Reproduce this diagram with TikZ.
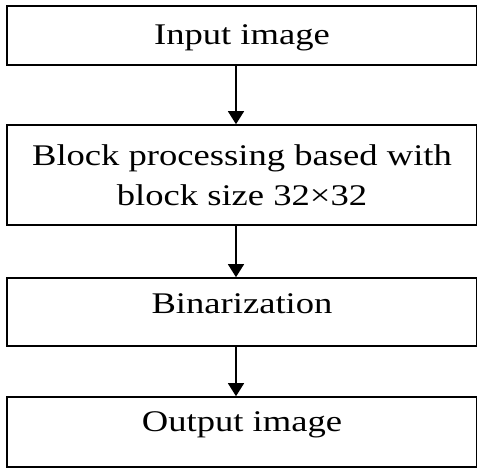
\documentclass[tikz,border=0pt]{standalone}
\usepackage{fontspec}
\setmainfont{Liberation Serif}
\usetikzlibrary{arrows.meta,calc}
\newcommand{\widetext}[1]{\scalebox{1.22}[1]{#1}}

\begin{document}
\begin{tikzpicture}[x=1pt,y=-1pt,>={Triangle[length=13pt,width=16pt]},
  stage/.style={draw,line width=1.6pt,minimum width=470pt,inner sep=0pt,
    font=\fontsize{30}{40}\selectfont}]
  \useasboundingbox (0,0) rectangle (477,469);
  \coordinate (ax) at (236,0);
  \node[stage,text height=38pt,text depth=21pt] (in) at (242,35.5) {\widetext{Input image}};
  \node[stage,minimum height=100pt,align=center] (blk) at (242,175)
    {\widetext{Block processing based with}\\ \widetext{block size 32×32}};
  \node[stage,text height=35pt,text depth=33pt] (bin) at (242,312) {\widetext{Binarization}};
  \node[stage,text height=34pt,text depth=36pt] (out) at (242,432) {\widetext{Output image}};
  \foreach \a/\b in {in/blk,blk/bin,bin/out}
    \draw[->,line width=1.3pt] (\a.south -| ax) -- (\b.north -| ax);
\end{tikzpicture}
\end{document}
